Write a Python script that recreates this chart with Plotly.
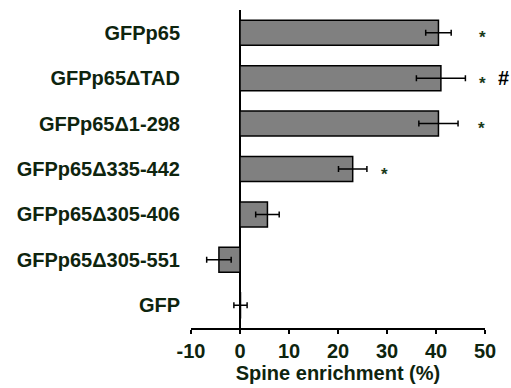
import plotly.graph_objects as go

categories = ["GFPp65", "GFPp65ΔTAD", "GFPp65Δ1-298", "GFPp65Δ335-442",
              "GFPp65Δ305-406", "GFPp65Δ305-551", "GFP"]
values = [40.5, 41.0, 40.5, 23.0, 5.6, -4.3, 0.1]
errors = [2.6, 5.0, 4.0, 2.9, 2.4, 2.5, 1.35]
marks = ["*", "*", "*", "*", "", "", ""]
mark_x = [49.4, 49.4, 49.2, 29.4, None, None, None]
hash_marks = ["", "#", "", "", "", "", ""]
x_ticks = [-10, 0, 10, 20, 30, 40, 50]
x_title = "Spine enrichment (%)"

txt = "#0e240e"
font_family = "Liberation Sans, Arial, sans-serif"

fig = go.Figure()
fig.add_trace(go.Bar(
    y=categories, x=values, orientation="h",
    marker=dict(color="#808080", line=dict(color="#000000", width=1.5)),
    error_x=dict(type="data", array=errors, visible=True,
                 color="#000000", thickness=1.5, width=3),
    width=0.55,
))

annotations = []
for cat, m, mx, h in zip(categories, marks, mark_x, hash_marks):
    if m:
        annotations.append(dict(x=mx, y=cat, xref="x", yref="y", text=m,
                                showarrow=False, yshift=-5,
                                font=dict(family=font_family, size=17,
                                          color="#1a3a1a", weight="bold")))
    if h:
        annotations.append(dict(x=mx, y=cat, xref="x", yref="y", text=h,
                                showarrow=False, xshift=21, yshift=0,
                                font=dict(family=font_family, size=20,
                                          color="#000000", weight="bold")))

fig.update_layout(
    width=511, height=388,
    margin=dict(l=191, r=26, t=10, b=60),
    paper_bgcolor="white", plot_bgcolor="white",
    showlegend=False,
    font=dict(family=font_family, color=txt, size=20, weight="bold"),
    annotations=annotations,
    xaxis=dict(
        range=[-10, 50], tickvals=x_ticks, ticktext=[str(t) for t in x_ticks],
        showgrid=False, showline=True, linecolor="#000000", linewidth=1.5,
        ticks="outside", ticklen=4, tickwidth=1.5, tickcolor="#000000",
        zeroline=True, zerolinecolor="#000000", zerolinewidth=1.5,
        tickfont=dict(family=font_family, size=20, color=txt, weight="bold"),
        title=dict(text=x_title, standoff=2,
                   font=dict(family=font_family, size=20, color=txt, weight="bold")),
    ),
    yaxis=dict(
        categoryorder="array", categoryarray=categories[::-1],
        range=[-0.5, 6.5], showgrid=False, showline=False, zeroline=False,
        ticks="", ticklabelstandoff=10,
        tickfont=dict(family=font_family, size=20, color=txt, weight="bold"),
    ),
)

fig.write_html("out.html")
